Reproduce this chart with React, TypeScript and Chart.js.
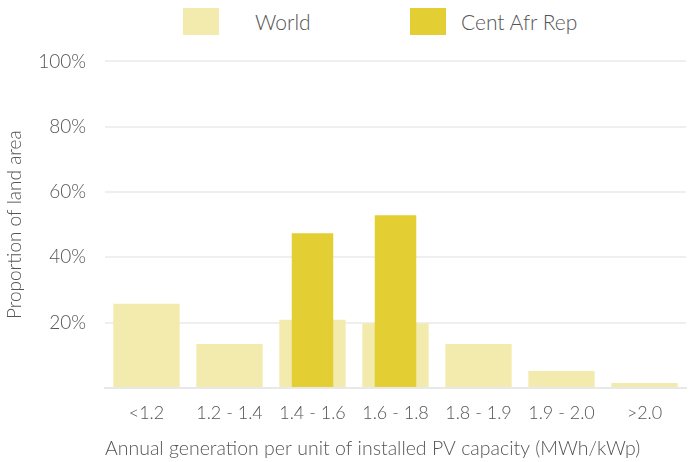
import React, { useEffect, useRef } from "react";
import { Chart, registerables } from "chart.js";

Chart.register(...registerables);

const categories = ["<1.2", "1.2 - 1.4", "1.4 - 1.6", "1.6 - 1.8", "1.8 - 1.9", "1.9 - 2.0", ">2.0"];
const worldValues = [25.8, 13.5, 20.9, 19.8, 13.5, 5.2, 1.5];
const carValues = [null, null, 47.4, 52.9, null, null, null];
const seriesNames = ["World", "Cent Afr Rep"];
const seriesColors = ["#f3ebae", "#e3cf33"];

const FONT = "Lato";
const TEXT = "#555555";

export default function App() {
  const ref = useRef<HTMLCanvasElement>(null);
  useEffect(() => {
    if (!ref.current) return;
    const chart = new Chart(ref.current, {
      type: "bar",
      data: {
        labels: categories,
        datasets: [
          {
            label: seriesNames[0],
            data: worldValues,
            backgroundColor: seriesColors[0],
            barPercentage: 0.8,
            categoryPercentage: 1,
            grouped: false,
            order: 1,
          },
          {
            label: seriesNames[1],
            data: carValues as any,
            backgroundColor: seriesColors[1],
            barPercentage: 0.5,
            categoryPercentage: 1,
            grouped: false,
            order: 0,
          },
        ],
      },
      options: {
        animation: false,
        responsive: true,
        maintainAspectRatio: false,
        layout: { padding: { left: 3, right: 4, top: 0, bottom: 2 } },
        plugins: {
          tooltip: { enabled: false },
          legend: { display: false },
        },
        scales: {
          x: {
            grid: { display: false },
            border: { display: true, color: "#e8e8e8", width: 2 },
            ticks: { color: TEXT, padding: 6, font: { family: FONT, size: 18, weight: "300" as any } },
            title: {
              display: true,
              align: "start",
              text: "Annual generation per unit of installed PV capacity (MWh/kWp)",
              color: TEXT,
              padding: { top: 7, bottom: 0 },
              font: { family: FONT, size: 19.5, weight: "300" as any },
            },
          },
          y: {
            min: 0,
            max: 100,
            afterFit: (scale: any) => {
              scale.width = 102;
            },
            grid: { color: "#efefef", lineWidth: 2, drawTicks: false },
            border: { display: false },
            ticks: {
              stepSize: 20,
              padding: 19,
              color: TEXT,
              font: { family: FONT, size: 19, weight: "300" as any },
              callback: (v: any) => (v === 0 ? "" : v + "%"),
            },
            title: {
              display: true,
              text: "Proportion of land area",
              color: TEXT,
              padding: { top: 0, bottom: 0 },
              font: { family: FONT, size: 19, weight: "300" as any },
            },
          },
        },
      },
    });
    return () => chart.destroy();
  }, []);

  const itemWidths = [227, 200];
  const textGaps = [36, 15];
  return (
    <div style={{ position: "fixed", left: 0, top: 0, width: 690, height: 462, background: "#fff" }}>
      <div
        style={{
          position: "absolute",
          left: 183,
          top: 8,
          height: 27,
          display: "flex",
          alignItems: "center",
          fontFamily: FONT,
          fontWeight: 300,
          fontSize: 21,
          color: TEXT,
        }}
      >
        {seriesNames.map((name, i) => (
          <div key={name} style={{ display: "flex", alignItems: "center", width: itemWidths[i] }}>
            <span style={{ display: "inline-block", width: 36, height: 27, background: seriesColors[i], marginRight: textGaps[i] }} />
            <span style={{ whiteSpace: "nowrap" }}>{name}</span>
          </div>
        ))}
      </div>
      <div style={{ position: "absolute", left: 0, top: 31, width: 690, height: 431 }}>
        <canvas ref={ref} />
      </div>
    </div>
  );
}
